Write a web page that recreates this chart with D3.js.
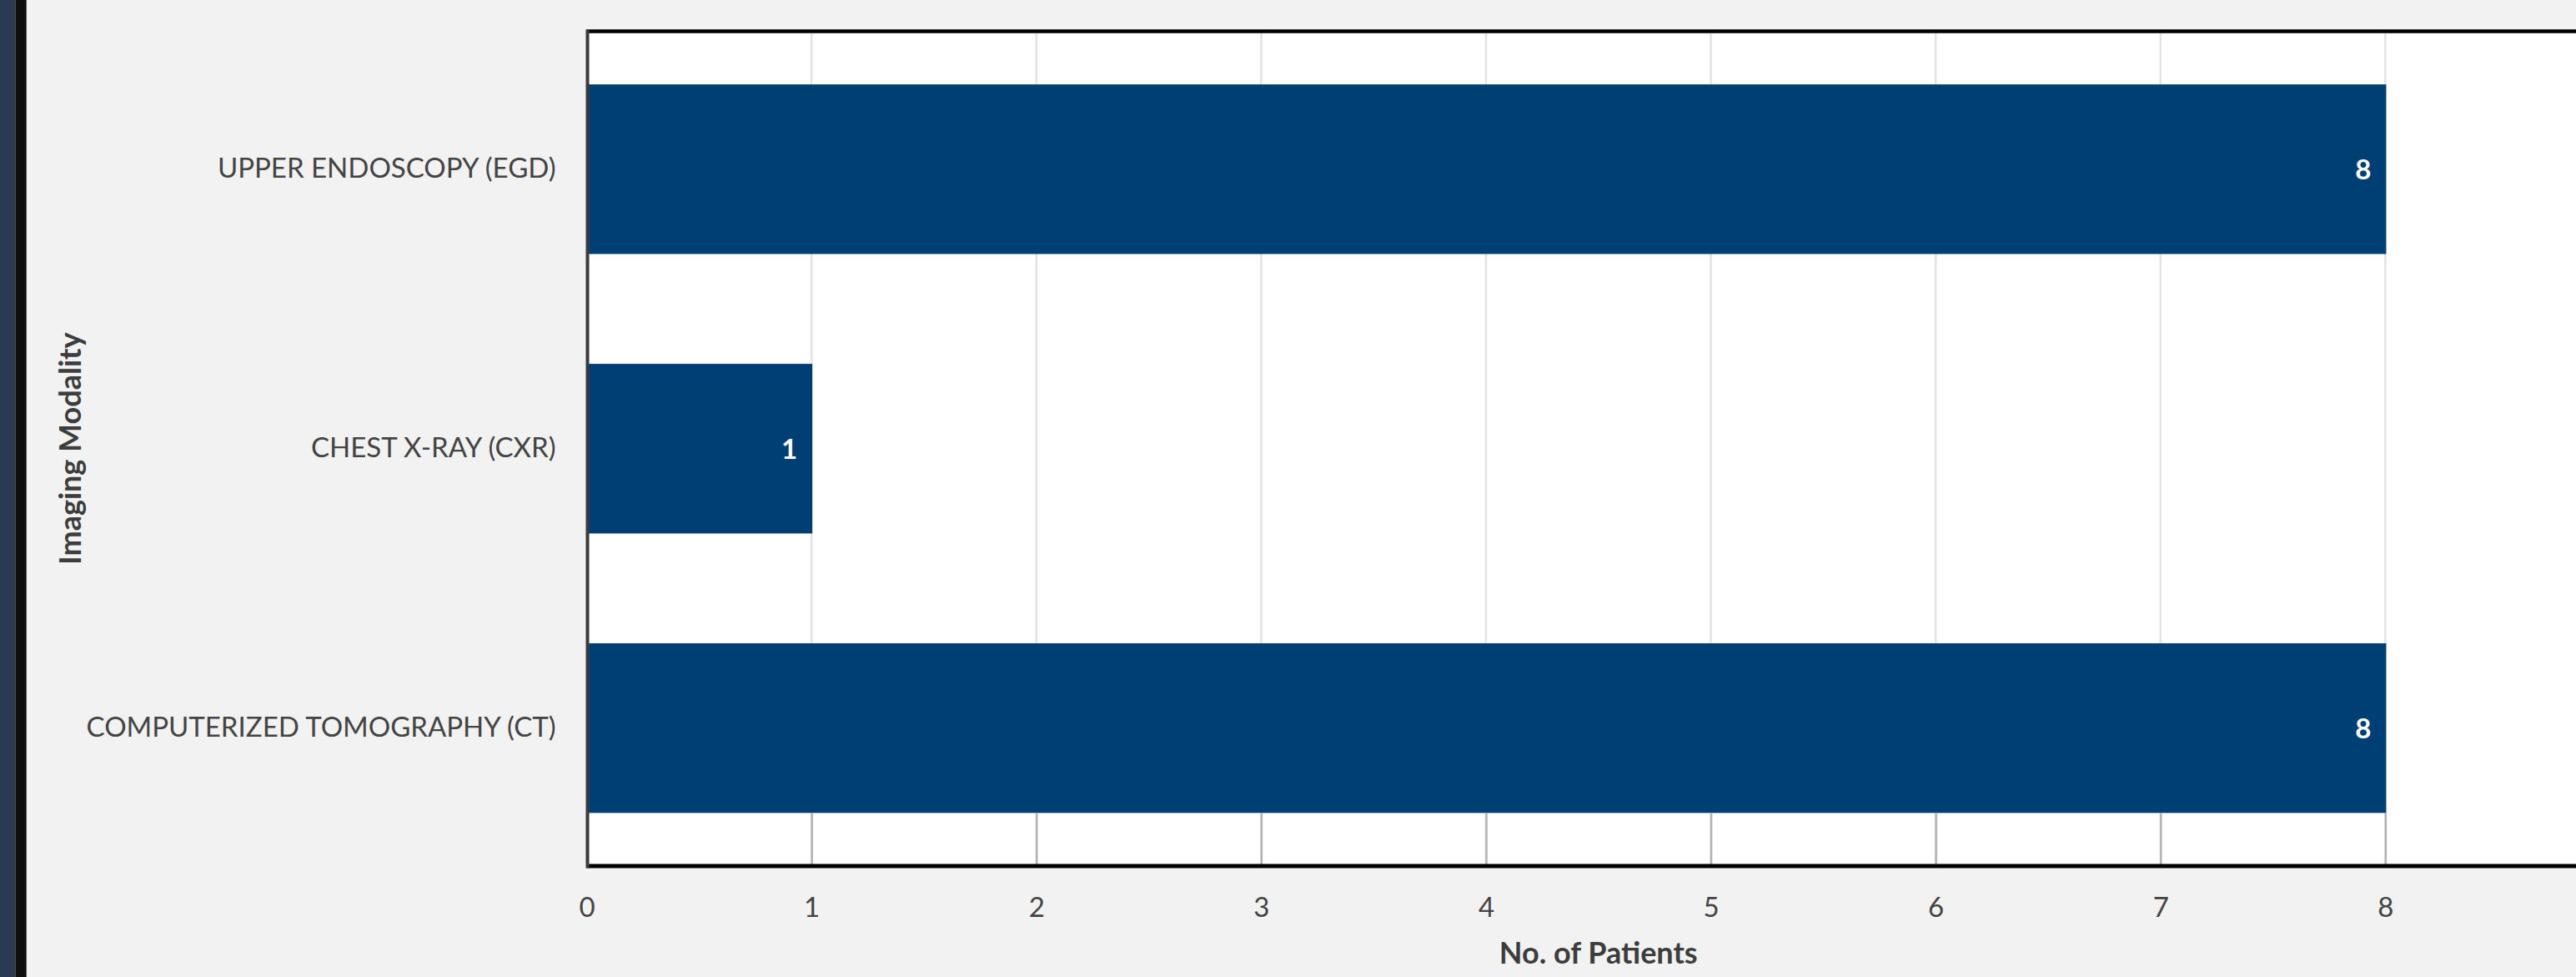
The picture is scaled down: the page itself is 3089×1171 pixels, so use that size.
<!DOCTYPE html>
<html><head><meta charset="utf-8">
<script src="https://cdn.jsdelivr.net/npm/d3@7"></script>
<style>body{margin:0;background:#f2f2f2;overflow:hidden}</style>
</head><body>
<svg id="c" width="3089" height="1171"></svg>
<script>
const categories = ["UPPER ENDOSCOPY (EGD)", "CHEST X-RAY (CXR)", "COMPUTERIZED TOMOGRAPHY (CT)"];
const patients = [8, 1, 8];
const xTicks = [0, 1, 2, 3, 4, 5, 6, 7, 8];
const xMax = 9;
const xTitle = "No. of Patients";
const yTitle = "Imaging Modality";

const svg = d3.select("#c");
const W = 3089, H = 1171;
const L = 703.5, R = 3130, T = 37.5, B = 1038;
svg.append("rect").attr("width", W).attr("height", H).attr("fill", "#f2f2f2");
svg.append("rect").attr("x", 0).attr("y", 0).attr("width", 18.5).attr("height", H).attr("fill", "#2b3a52");
svg.append("rect").attr("x", 18.5).attr("y", 0).attr("width", 13.2).attr("height", H).attr("fill", "#0e0e0e");

const x = d3.scaleLinear().domain([0, xMax]).range([L, R]);
const y = d3.scaleBand().domain(categories).range([T, B]).paddingInner(0.393).paddingOuter(0.19);

svg.append("rect").attr("x", L).attr("y", T).attr("width", R - L).attr("height", B - T).attr("fill", "#fff");

const font = "Lato, 'Noto Sans', sans-serif";

// gridlines
svg.append("g").selectAll("line").data(xTicks.filter(d => d > 0)).join("line")
  .attr("x1", d => x(d)).attr("x2", d => x(d)).attr("y1", T).attr("y2", B)
  .attr("stroke", "#e3e3e3").attr("stroke-width", 2.5);

// bars
svg.append("g").selectAll("rect").data(categories).join("rect")
  .attr("x", L).attr("y", d => y(d)).attr("height", y.bandwidth())
  .attr("width", (d, i) => x(patients[i]) - L + 1)
  .attr("fill", "#003f74");

// x axis
const xAxis = d3.axisBottom(x).tickValues(xTicks).tickSizeInner(-(B - (y(categories[2]) + y.bandwidth()))).tickSizeOuter(0).tickPadding(38);
const gx = svg.append("g").attr("transform", `translate(0,${B})`).call(xAxis);
gx.select(".domain").remove();
gx.selectAll(".tick line").attr("stroke", "#b3b3b3").attr("stroke-width", 2.5);
gx.selectAll(".tick text").attr("font-family", font).attr("font-size", 33).attr("fill", "#444");

// borders
svg.append("line").attr("x1", L).attr("x2", W).attr("y1", T).attr("y2", T).attr("stroke", "#000").attr("stroke-width", 4.5);
svg.append("line").attr("x1", L).attr("x2", W).attr("y1", B).attr("y2", B).attr("stroke", "#000").attr("stroke-width", 5);
svg.append("line").attr("x1", L + 1).attr("x2", L + 1).attr("y1", T - 2).attr("y2", B + 2.5).attr("stroke", "#3a3a3a").attr("stroke-width", 4);

// y axis labels
const yAxis = d3.axisLeft(y).tickSize(0).tickPadding(37);
const gy = svg.append("g").attr("transform", `translate(${L},0)`).call(yAxis);
gy.select(".domain").remove();
gy.selectAll(".tick text").attr("font-family", font).attr("font-size", 33).attr("fill", "#444");

// value labels
svg.append("g").selectAll("text").data(categories).join("text")
  .attr("x", (d, i) => x(patients[i]) - 17).attr("y", d => y(d) + y.bandwidth() / 2)
  .attr("dy", "0.36em").attr("text-anchor", "end")
  .attr("font-family", font).attr("font-weight", 700).attr("font-size", 33).attr("fill", "#fff")
  .text((d, i) => patients[i]);

// titles
svg.append("text").attr("x", (L + R) / 2).attr("y", 1155).attr("text-anchor", "middle")
  .attr("font-family", font).attr("font-weight", 700).attr("font-size", 36).attr("fill", "#3d3d3d").text(xTitle);
svg.append("text").attr("transform", `translate(97,${(T + B) / 2}) rotate(-90)`).attr("text-anchor", "middle")
  .attr("font-family", font).attr("font-weight", 700).attr("font-size", 36).attr("fill", "#3d3d3d").text(yTitle);
</script>
</body></html>
